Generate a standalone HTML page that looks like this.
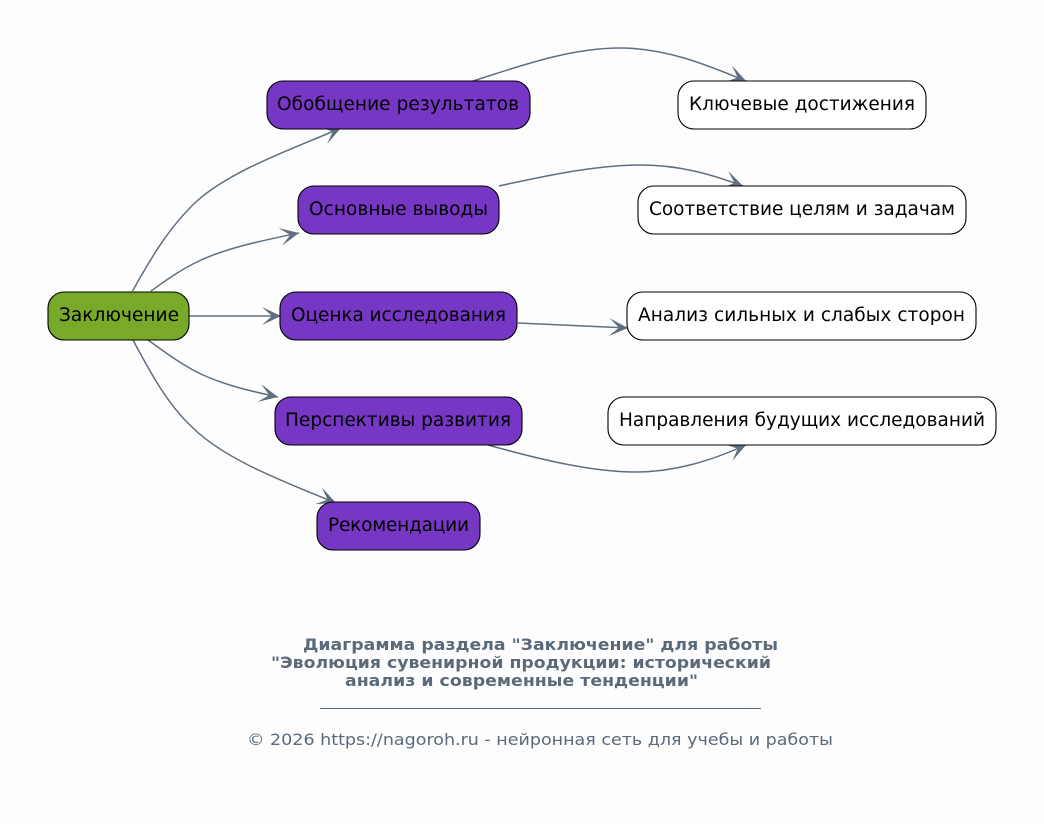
<!DOCTYPE html>
<html>
<head>
<meta charset="utf-8">
<style>
html,body{margin:0;padding:0;background:#fdfdfd;}
svg{display:block;}
text{font-family:"DejaVu Sans",sans-serif;}
.n{font-size:18.5px;fill:#000;text-anchor:middle;}
.t{font-size:16px;font-weight:bold;fill:#5a6a7a;}
.f{font-size:16px;fill:#5a6a7a;}
.e{fill:none;stroke:#5f6f7f;stroke-width:1.5;marker-end:url(#v);}
.p{fill:#7637c4;stroke:#000;stroke-width:1.1;}
.w{fill:#fff;stroke:#000;stroke-width:1.1;}
</style>
</head>
<body>
<svg width="1044" height="824" viewBox="0 0 1044 824" xmlns="http://www.w3.org/2000/svg">
<defs>
<marker id="v" markerUnits="userSpaceOnUse" markerWidth="22" markerHeight="22" refX="19" refY="10" orient="auto">
<path d="M0,1 L19,10 L0,19 L10,10 Z" fill="#5f6f7f"/>
</marker>
</defs>
<rect width="1044" height="824" fill="#fdfdfd"/>

<path class="e" d="M132.5,291 C150,260 168,228 197,201 C232,170 290,150 341,128"/>
<path class="e" d="M151,291 C165,281 180,270 197,262 C225,248 265,240 299,233"/>
<path class="e" d="M189,316 L281,316"/>
<path class="e" d="M148,340 C165,352 183,366 203,375 C225,385 250,391 278,397"/>
<path class="e" d="M133,340 C150,372 168,405 192,427 C225,460 285,482 336,503"/>
<path class="e" d="M473,81 C520,66 570,48 620,48 C665,48 705,64 746,81"/>
<path class="e" d="M499,186 C540,177 595,165 640,165 C680,165 710,174 743,186"/>
<path class="e" d="M518,323 L628,328"/>
<path class="e" d="M488,445 C535,458 590,472 635,472 C675,472 710,461 746,445"/>

<rect x="48" y="292" width="141" height="48" rx="16" fill="#78a928" stroke="#000" stroke-width="1.1"/>
<text class="n" x="119" y="321" textLength="120">Заключение</text>

<rect class="p" x="267" y="81" width="263" height="48" rx="16"/>
<text class="n" x="398" y="110" textLength="242">Обобщение результатов</text>
<rect class="p" x="298" y="186" width="201" height="48" rx="16"/>
<text class="n" x="398.500" y="215" textLength="179">Основные выводы</text>
<rect class="p" x="280" y="292" width="237" height="48" rx="16"/>
<text class="n" x="398.500" y="321" textLength="215">Оценка исследования</text>
<rect class="p" x="275" y="397" width="247" height="48" rx="16"/>
<text class="n" x="398" y="426" textLength="226">Перспективы развития</text>
<rect class="p" x="317" y="502" width="163" height="48" rx="16"/>
<text class="n" x="398.500" y="531" textLength="141">Рекомендации</text>

<rect class="w" x="678" y="81" width="248" height="48" rx="16"/>
<text class="n" x="802" y="110" textLength="226">Ключевые достижения</text>
<rect class="w" x="638" y="186" width="328" height="48" rx="16"/>
<text class="n" x="802" y="215" textLength="306">Соответствие целям и задачам</text>
<rect class="w" x="627" y="292" width="349" height="48" rx="16"/>
<text class="n" x="801.500" y="321" textLength="327">Анализ сильных и слабых сторон</text>
<rect class="w" x="608" y="397" width="388" height="48" rx="16"/>
<text class="n" x="802" y="426" textLength="366">Направления будущих исследований</text>

<text class="t" x="303" y="650" textLength="475" lengthAdjust="spacingAndGlyphs">Диаграмма раздела "Заключение" для работы</text>
<text class="t" x="271" y="668" textLength="500" lengthAdjust="spacingAndGlyphs">"Эволюция сувенирной продукции: исторический</text>
<text class="t" x="345" y="686" textLength="353" lengthAdjust="spacingAndGlyphs">анализ и современные тенденции"</text>
<line x1="320" y1="708.500" x2="761" y2="708.500" stroke="#5f6f7f" stroke-width="1"/>
<text class="f" x="247" y="745" textLength="586" lengthAdjust="spacingAndGlyphs">© 2026 https://nagoroh.ru - нейронная сеть для учебы и работы</text>
</svg>
</body>
</html>
